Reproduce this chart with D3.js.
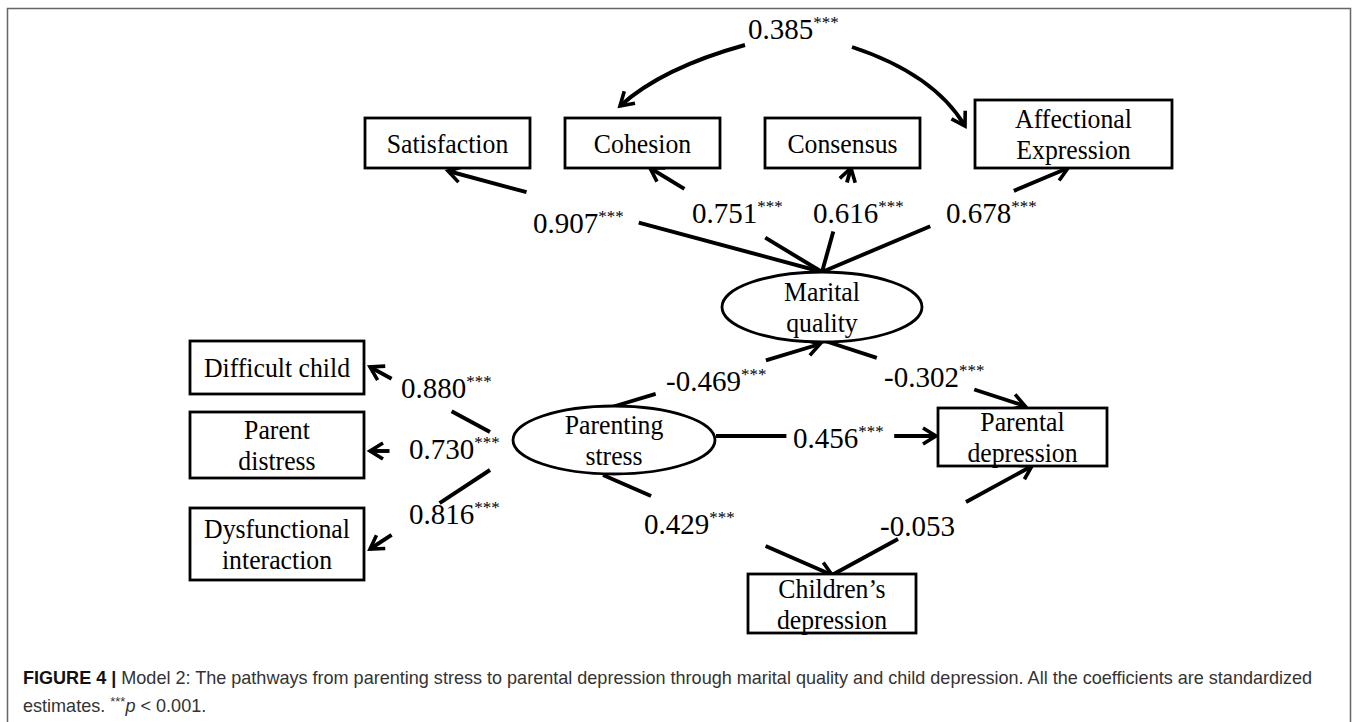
<!DOCTYPE html>
<html>
<head>
<meta charset="utf-8">
<script src="https://cdn.jsdelivr.net/npm/d3@7"></script>
<style>
  body { margin: 0; background: #fff; }
  svg { display: block; }
</style>
</head>
<body>
<svg width="1358" height="722"></svg>
<script>
// model variables
const nodeNames = ["Satisfaction", "Cohesion", "Consensus", "Affectional\nExpression",
  "Marital\nquality", "Difficult child", "Parent\ndistress", "Dysfunctional\ninteraction",
  "Parenting\nstress", "Parental\ndepression", "Children\u2019s\ndepression"];
const nodeKinds = ["box", "box", "box", "box", "latent", "box", "box", "box", "latent", "box", "box"];

// paths and standardized coefficients
const pathFrom = [4, 4, 4, 4, 8, 8, 8, 8, 4, 8, 8, 10];
const pathTo   = [0, 1, 2, 3, 5, 6, 7, 4, 9, 9, 10, 9];
const coefs    = ["0.907", "0.751", "0.616", "0.678", "0.880", "0.730", "0.816",
                  "-0.469", "-0.302", "0.456", "0.429", "-0.053"];
const sig      = [true, true, true, true, true, true, true, true, true, true, true, false];

// covariance between cohesion and affectional expression
const covCoef = "0.385";

const captionBold = "FIGURE 4 | ";
const captionText = "Model 2: The pathways from parenting stress to parental depression through marital quality and child depression. All the coefficients are standardized";

// ---- layout (pixels) ----
const nodeLayout = [
  {x: 365, y: 118, w: 165, h: 50},
  {x: 565, y: 118, w: 155, h: 50},
  {x: 765, y: 118, w: 155, h: 50},
  {x: 975, y: 100, w: 197, h: 68},
  {cx: 822, cy: 307, rx: 100, ry: 35},
  {x: 190, y: 341, w: 174, h: 53},
  {x: 190, y: 412, w: 174, h: 66},
  {x: 190, y: 508, w: 174, h: 72},
  {cx: 614, cy: 440, rx: 101, ry: 34},
  {x: 938, y: 408, w: 169, h: 58},
  {x: 748, y: 574, w: 168, h: 59}
];

// tail, tip, gap [t0,t1] along the line, label anchor (left, baseline)
const pathLayout = [
  {a: [822, 272], b: [448, 171], gap: [0.49, 0.79], lx: 533, ly: 233},
  {a: [822, 272], b: [650, 168], gap: [0.33, 0.80], lx: 692, ly: 223},
  {a: [822, 272], b: [851, 168], gap: [0.39, 0.86], lx: 813, ly: 223},
  {a: [822, 272], b: [1068, 168], gap: [0.44, 0.78], lx: 946, ly: 223},
  {a: [490, 432], b: [370, 367], gap: [0.32, 0.82], lx: 401, ly: 398},
  {a: [500, 451], b: [370, 451], gap: [0.00, 0.85], lx: 409, ly: 459},
  {a: [490, 470], b: [370, 549], gap: [0.42, 0.82], lx: 409, ly: 524},
  {a: [612, 407], b: [820, 344], gap: [0.21, 0.74], lx: 666, ly: 391},
  {a: [822, 340], b: [1025, 406], gap: [0.27, 0.75], lx: 884, ly: 387},
  {a: [716, 436], b: [936, 436], gap: [0.32, 0.81], lx: 793, ly: 448},
  {a: [603, 475], b: [832, 575], gap: [0.21, 0.71], lx: 644, ly: 534},
  {a: [832, 575], b: [1032, 466], gap: [0.33, 0.67], lx: 880, ly: 536}
];

const svg = d3.select("svg"),
      width = +svg.attr("width"),
      height = +svg.attr("height");

const serif = "'Liberation Serif', 'Times New Roman', serif";
const labelSize = 29, nodeSize = 28, starSize = 17;
const lineW = 3.9;

// frame
svg.append("rect")
  .attr("x", 7.5).attr("y", 8.5)
  .attr("width", 1343).attr("height", 740)
  .attr("fill", "none")
  .attr("stroke", "#666")
  .attr("stroke-width", 1.5);

// arrowhead
svg.append("defs").append("marker")
  .attr("id", "arrow")
  .attr("markerUnits", "userSpaceOnUse")
  .attr("viewBox", "-17 -11 21 22")
  .attr("refX", 0).attr("refY", 0)
  .attr("markerWidth", 21).attr("markerHeight", 22)
  .attr("orient", "auto")
  .append("path")
  .attr("d", "M-13,-8L0,0L-13,8")
  .attr("fill", "none")
  .attr("stroke", "#000")
  .attr("stroke-width", 3.6)
  .attr("stroke-linecap", "butt");

const g = svg.append("g");

// paths
const lerp = (p, q, t) => [p[0] + (q[0] - p[0]) * t, p[1] + (q[1] - p[1]) * t];

pathLayout.forEach((p, i) => {
  const g0 = lerp(p.a, p.b, p.gap[0]),
        g1 = lerp(p.a, p.b, p.gap[1]);
  if (p.gap[0] > 0) {
    g.append("line")
      .attr("x1", p.a[0]).attr("y1", p.a[1])
      .attr("x2", g0[0]).attr("y2", g0[1])
      .attr("stroke", "#000").attr("stroke-width", lineW);
  }
  g.append("line")
    .attr("x1", g1[0]).attr("y1", g1[1])
    .attr("x2", p.b[0]).attr("y2", p.b[1])
    .attr("stroke", "#000").attr("stroke-width", lineW)
    .attr("marker-end", "url(#arrow)");

  const t = g.append("text")
    .attr("x", p.lx).attr("y", p.ly)
    .attr("font-family", serif)
    .attr("font-size", labelSize)
    .text(coefs[i]);
  if (sig[i]) {
    t.append("tspan").attr("dy", -11).attr("font-size", starSize).text("***");
  }
});

// covariance curves
g.append("path")
  .attr("d", "M745,45Q662,68 620,106")
  .attr("fill", "none").attr("stroke", "#000").attr("stroke-width", lineW)
  .attr("marker-end", "url(#arrow)");
g.append("path")
  .attr("d", "M852,47Q934,74 965,126")
  .attr("fill", "none").attr("stroke", "#000").attr("stroke-width", lineW)
  .attr("marker-end", "url(#arrow)");
const ct = g.append("text")
  .attr("x", 748).attr("y", 39)
  .attr("font-family", serif).attr("font-size", labelSize)
  .text(covCoef);
ct.append("tspan").attr("dy", -11).attr("font-size", starSize).text("***");

// nodes
nodeNames.forEach((name, i) => {
  const L = nodeLayout[i];
  let cx, cy;
  if (nodeKinds[i] === "box") {
    g.append("rect")
      .attr("x", L.x).attr("y", L.y).attr("width", L.w).attr("height", L.h)
      .attr("fill", "#fff").attr("stroke", "#000").attr("stroke-width", 2.8);
    cx = L.x + L.w / 2; cy = L.y + L.h / 2;
  } else {
    g.append("ellipse")
      .attr("cx", L.cx).attr("cy", L.cy).attr("rx", L.rx).attr("ry", L.ry)
      .attr("fill", "#fff").attr("stroke", "#000").attr("stroke-width", 2.8);
    cx = L.cx; cy = L.cy;
  }
  const lines = name.split("\n");
  const lh = 31;
  const t = g.append("text")
    .attr("font-family", serif)
    .attr("font-size", nodeSize)
    .attr("text-anchor", "middle")
    .attr("transform", `translate(${cx},0) scale(0.92,1) translate(${-cx},0)`);
  lines.forEach((ln, j) => {
    t.append("tspan")
      .attr("x", cx)
      .attr("y", cy + 10 + (j - (lines.length - 1) / 2) * lh)
      .text(ln);
  });
});

// caption
const sans = "'Liberation Sans', Arial, sans-serif";
const cap = svg.append("text")
  .attr("x", 23).attr("y", 684)
  .attr("font-family", sans).attr("font-size", 18)
  .attr("fill", "#333");
cap.append("tspan").attr("font-weight", "bold").attr("fill", "#111").text(captionBold);
cap.append("tspan").text(captionText);

const target = 1313 - 23;
const natural = cap.node().getComputedTextLength();
const sx = target / natural;
cap.attr("transform", `translate(23,0) scale(${sx},1) translate(-23,0)`);

const cap2 = svg.append("text")
  .attr("x", 23).attr("y", 712)
  .attr("font-family", sans).attr("font-size", 18)
  .attr("fill", "#333")
  .attr("transform", `translate(23,0) scale(${sx},1) translate(-23,0)`);
cap2.append("tspan").text("estimates. ");
cap2.append("tspan").attr("dy", -6).attr("font-size", 13).text("***");
cap2.append("tspan").attr("dy", 6).attr("font-style", "italic").text("p");
cap2.append("tspan").text(" < 0.001.");
</script>
</body>
</html>
